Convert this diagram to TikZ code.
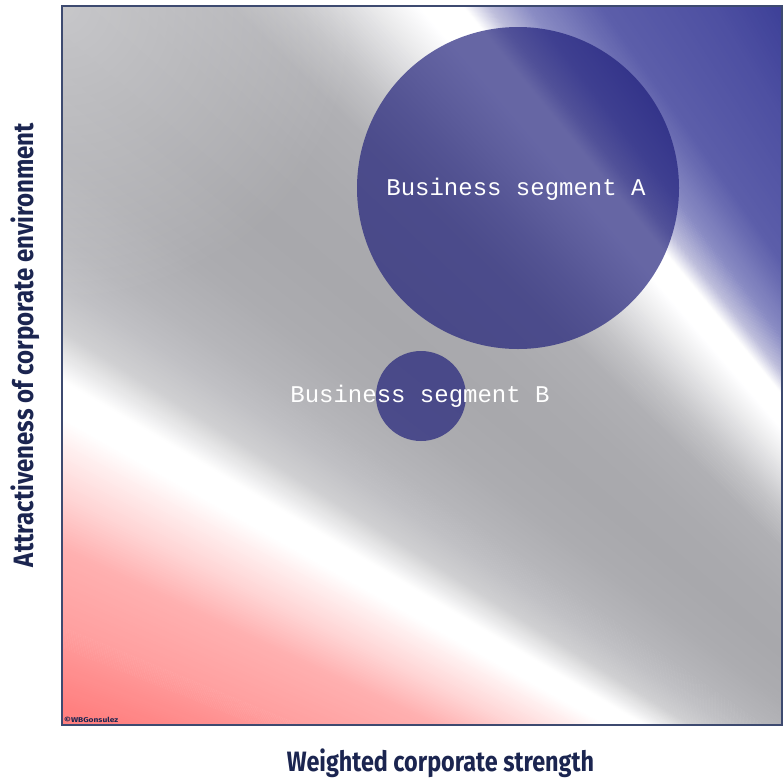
\documentclass[tikz,border=0pt]{standalone}
\usepackage{fontspec}
\usepackage{graphicx}
\usetikzlibrary{fadings}
\tikzfading[name=cornerfade, inner color=transparent!0, outer color=transparent!100]
\setmainfont{Liberation Sans}
\newfontfamily\monofont{Liberation Mono}
\newfontfamily\axisfont{Fira Sans}
\definecolor{rA}{RGB}{255,128,128}
\definecolor{rB}{RGB}{255,149,149}
\definecolor{rC}{RGB}{255,160,160}
\definecolor{rD}{RGB}{255,176,176}
\definecolor{rE}{RGB}{255,212,212}
\definecolor{rF}{RGB}{255,240,240}
\definecolor{wh}{RGB}{255,255,255}
\definecolor{gA}{RGB}{208,208,210}
\definecolor{gB}{RGB}{192,192,196}
\definecolor{gC}{RGB}{182,182,186}
\definecolor{gD}{RGB}{172,172,176}
\definecolor{gE}{RGB}{168,168,172}
\definecolor{gF}{RGB}{170,170,174}
\definecolor{gG}{RGB}{176,176,180}
\definecolor{gH}{RGB}{195,195,198}
\definecolor{gI}{RGB}{230,230,232}
\definecolor{bA}{RGB}{192,192,221}
\definecolor{bB}{RGB}{138,140,196}
\definecolor{bC}{RGB}{92,94,170}
\definecolor{bD}{RGB}{78,80,162}
\definecolor{bE}{RGB}{58,61,150}
\definecolor{circc}{RGB}{27,27,120}
\definecolor{framec}{RGB}{61,74,112}
\definecolor{labelc}{RGB}{27,37,80}
\begin{document}
\begin{tikzpicture}[x=1pt,y=-1pt,
  bubble/.style={circle, fill=circc, fill opacity=0.67, inner sep=0pt, minimum size=#1},
  seglabel/.style={text=white, font=\monofont\fontsize{24}{26}\selectfont, inner sep=0pt},
  axislabel/.style={text=labelc, font=\axisfont\bfseries\fontsize{28}{30}\selectfont, inner sep=0pt, anchor=base},
  copy/.style={text=labelc, font=\axisfont\bfseries\fontsize{7}{8}\selectfont, inner sep=0pt, anchor=base west}]
\useasboundingbox (0,0) rectangle (784,782);
\fill[white] (0,0) rectangle (784,782);
\begin{scope}
  \clip (62,6) rectangle (782,725);
  % sweep gradient around a point beyond the bottom-right corner
  \fill[rA] (1440,1195) -- ({1440-2500*cos(-5)},{1195-2500*sin(-5)}) -- ({1440-2500*cos(19.6)},{1195-2500*sin(19.6)}) -- cycle;
  \fill[bE] (1440,1195) -- ({1440-2500*cos(61.4)},{1195-2500*sin(61.4)}) -- ({1440-2500*cos(95)},{1195-2500*sin(95)}) -- cycle;
  \foreach \aa/\ab/\ca/\cb in {19.5/21.6/rA/rB, 21.6/22.4/rB/rC, 22.4/25.1/rC/rD, 25.1/26.9/rD/rE, 26.9/28.6/rE/rF, 28.6/29.4/rF/wh,
      29.4/30.6/wh/wh, 30.6/32.1/wh/gA, 32.1/33.5/gA/gB, 33.5/34.8/gB/gC, 34.8/37/gC/gD, 37/39.5/gD/gE, 39.5/42/gE/gF,
      42/44.5/gF/gG, 44.5/46/gG/gH, 46/47.9/gH/gI, 47.9/49.3/gI/wh, 49.3/50.6/wh/wh, 50.6/51.3/wh/bA,
      51.3/52.5/bA/bB, 52.5/54.8/bB/bC, 54.8/58.5/bC/bD, 58.5/61.5/bD/bE} {
    \foreach \k in {0,...,23} {
      \pgfmathsetmacro\pa{\aa+(\ab-\aa)*\k/24}
      \pgfmathsetmacro\pb{\aa+(\ab-\aa)*(\k+1.4)/24}
      \pgfmathsetmacro\mix{100*(\k+0.5)/24}
      \fill[fill={\cb!\mix!\ca}] (1440,1195) -- ({1440-2500*cos(\pa)},{1195-2500*sin(\pa)}) -- ({1440-2500*cos(\pb)},{1195-2500*sin(\pb)}) -- cycle;
    }
  }
  % lighter top-left corner
  \fill[white, fill opacity=0.35, path fading=cornerfade] (62,6) circle (300);
\end{scope}
\node[bubble=322pt] (A) at (518,188) {};
\node[bubble=90pt] (B) at (421,396) {};
\node[seglabel] (la) at (516,189) {Business segment A};
\node[seglabel] (lb) at (420,396) {Business segment B};
\draw[framec, line width=2pt] (62,6) rectangle (782,725);
\node[copy] (cp) at (64,722) {\resizebox{54pt}{\height}{\textcopyright WBGonsulez}};
\node[axislabel] (xl) at (440.5,771) {\resizebox{307pt}{\height}{Weighted corporate strength}};
\node[axislabel, rotate=90] (yl) at (33,345) {\resizebox{444pt}{\height}{Attractiveness of corporate environment}};
\end{tikzpicture}
\end{document}
